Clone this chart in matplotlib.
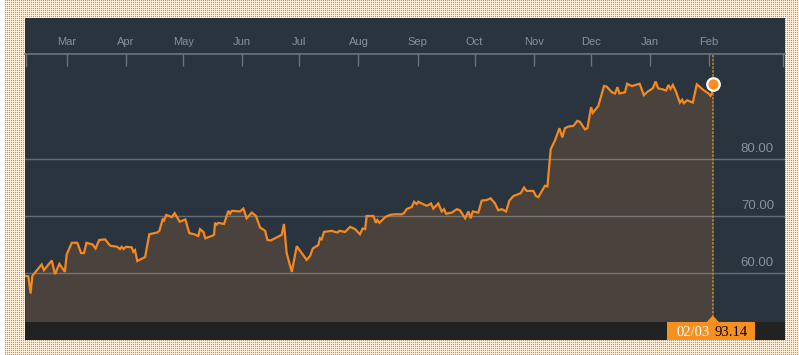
import numpy as np
import matplotlib
matplotlib.use("Agg")
import matplotlib.pyplot as plt
import matplotlib.dates as mdates
from matplotlib.patches import Rectangle, Polygon
from datetime import datetime

# ---------------- data ----------------
base_date = datetime(2014, 3, 1)
day_offsets = [
    -22.0, -20.3, -19.1, -18.2, -13.3, -12.1, -8.0, -6.3, -4.0, -1.1, -0.2, 2.5, 5.4, 7.4, 8.9, 10.2,
    13.4, 15.0, 16.9, 20.0, 22.6, 26.3, 27.8, 28.7, 29.7, 31.0, 34.0, 34.8, 35.7, 36.9, 41.0, 43.2,
    44.5, 47.3, 48.5, 50.2, 50.9, 52.1, 55.0, 56.5, 59.2, 62.1, 64.2, 66.7, 68.9, 69.8, 71.6, 72.6,
    76.0, 77.2, 77.7, 78.6, 79.4, 82.4, 84.7, 85.6, 86.5, 90.8, 92.6, 94.3, 97.0, 99.2, 101.3, 104.0,
    105.2, 106.9, 112.7, 113.9, 115.3, 118.0, 120.6, 125.8, 127.6, 129.0, 131.9, 132.8, 133.7, 134.9,
    139.0, 140.7, 141.9, 143.0, 146.0, 148.6, 151.2, 153.8, 155.2, 156.5, 157.3, 160.8, 162.2, 162.9,
    164.0, 167.0, 169.6, 172.2, 175.7, 176.9, 178.3, 181.0, 182.2, 183.6, 184.4, 186.2, 188.8, 190.2,
    191.1, 192.3, 194.9, 196.7, 197.9, 199.0, 202.0, 204.6, 206.3, 209.0, 210.7, 211.9, 213.0, 215.9,
    217.7, 220.3, 222.4, 224.7, 226.4, 228.2, 230.5, 232.2, 234.3, 238.2, 239.9, 241.3, 244.8, 246.2,
    247.4, 250.9, 252.2, 253.9, 256.2, 258.5, 260.0, 261.4, 263.2, 265.8, 267.9, 269.3, 271.9, 273.2,
    275.1, 276.0, 278.9, 281.9, 283.3, 286.0, 287.7, 288.9, 290.0, 292.9, 294.0, 296.5, 300.6, 302.8,
    304.7, 307.5, 309.0, 310.3, 312.9, 314.5, 315.7, 316.8, 318.0, 319.7, 321.7, 322.9, 323.8, 325.5,
    328.5, 330.6, 334.1, 336.7, 337.8, 338.6, 339.0,
]
prices = [
    59.5, 59.4, 56.4, 59.5, 61.5, 60.5, 62.2, 59.8, 61.6, 60.2, 63.2, 65.3, 65.3, 63.5, 63.5, 65.3,
    65.0, 64.3, 65.8, 65.9, 64.8, 64.6, 64.2, 64.6, 64.2, 64.6, 64.5, 63.7, 64.0, 62.1, 62.8, 66.8,
    66.9, 67.1, 67.4, 69.4, 69.2, 70.2, 69.8, 70.5, 69.0, 69.4, 67.0, 66.8, 66.5, 67.7, 67.2, 66.1,
    66.5, 66.7, 68.8, 68.5, 68.8, 68.6, 70.9, 70.4, 70.9, 70.8, 71.3, 69.6, 70.6, 70.0, 68.0, 67.4,
    65.8, 65.7, 66.7, 68.6, 63.5, 60.2, 64.7, 62.3, 63.0, 64.3, 64.9, 66.1, 65.9, 67.2,
    67.4, 67.2, 67.1, 67.4, 67.2, 68.1, 67.7, 66.8, 67.8, 67.7, 70.0, 70.0, 68.8, 69.3,
    68.8, 69.8, 70.2, 70.3, 70.3, 70.5, 71.2, 71.6, 72.5, 72.1, 72.5, 72.2, 71.8, 72.0,
    72.2, 71.3, 72.2, 70.8, 71.2, 70.4, 70.6, 71.2, 71.0, 69.6, 70.8, 69.6, 70.8, 70.6,
    72.7, 72.8, 73.1, 72.2, 71.0, 71.2, 70.8, 72.7, 73.5, 74.0, 75.0, 74.4, 74.4, 73.5,
    73.3, 75.3, 75.2, 81.7, 83.3, 85.4, 83.8, 85.4, 85.7, 85.8, 86.7, 86.5, 85.2, 85.4,
    89.1, 88.1, 89.3, 92.8, 92.7, 91.7, 91.5, 92.6, 91.5, 91.7, 93.2, 92.8, 93.2, 91.2,
    91.8, 92.4, 93.6, 92.4, 92.2, 92.0, 93.0, 92.3, 93.0, 91.8, 89.9, 90.4, 89.8, 90.3,
    89.9, 93.1, 92.1, 91.5, 91.1, 91.6, 93.14,
]
month_starts = [datetime(2014, m, 1) for m in range(3, 13)] + [datetime(2015, 1, 1), datetime(2015, 2, 1)]
grid_values = [60, 70, 80]
last_date_label = "02/03"
last_price_label = "93.14"

# ---------------- styles ----------------
W, H = 799, 355
PANEL = "#2a343f"
FILL = "#4a423c"
LINE = "#f5891f"
STRIP = "#222222"
TXT = "#8b9097"
AXC = "#6c737a"

fig = plt.figure(figsize=(W / 100, H / 100), dpi=100, facecolor="white")

# dotted background pattern (soft orange dots on white)
orange = np.array([240, 140, 40]) / 255.0
white = np.ones(3)
pattern = np.ones((H, W, 3))
pattern[0::2, 5::2] = orange
pattern[1::2, 5::2] = 0.78 * white + 0.22 * orange
pattern[0::2, 6::2] = 0.78 * white + 0.22 * orange
pattern[:, :5] = 1.0
fig.figimage(pattern, xo=0, yo=0, origin="upper", zorder=0, resample=False)

def fr(x0, y0, x1, y1):
    return [x0 / W, 1 - y1 / H, (x1 - x0) / W, (y1 - y0) / H]

bg = fig.add_axes(fr(25, 18, 785, 340), zorder=1)
bg.set_facecolor(PANEL)
bg.set_axis_off()
bg.add_patch(Rectangle((0, 0), 1, 1, transform=bg.transAxes, color=PANEL, zorder=0))

ax = fig.add_axes(fr(25, 54, 785, 322), zorder=2)
ax.patch.set_alpha(0)

base_num = mdates.date2num(base_date)
xs = base_num + np.array(day_offsets)
ys = np.array(prices)

y_bottom = 60 - (322 - 273) / 5.7
y_top = 80 + (159 - 54) / 5.7
ax.set_ylim(y_bottom, y_top)
ax.set_xlim(base_num - 22.05, base_num + 376.9)

ax.fill_between(xs, ys, y_bottom, color=FILL, lw=0, zorder=1)
for gv in grid_values:
    ax.axhline(gv, color="white", alpha=0.28, lw=1.0, zorder=2)
    ax.annotate(f"{gv:.2f}", xy=(0.9855, gv), xycoords=("axes fraction", "data"),
                xytext=(0, 4.8), textcoords="offset points", ha="right", va="baseline",
                color=TXT, fontsize=9.5, family="Liberation Sans", zorder=5)
ax.plot(xs, ys, color=LINE, lw=1.6, zorder=3, solid_joinstyle="miter")

for s in ["left", "right", "bottom"]:
    ax.spines[s].set_visible(False)
ax.spines["top"].set_color(AXC)
ax.spines["top"].set_linewidth(1.2)
ax.set_yticks([])
mnums = [mdates.date2num(d) for d in month_starts]
ax.set_xticks(mnums)
ax.set_xticklabels([])
ax.tick_params(axis="x", which="major", top=True, bottom=False, direction="in",
               length=8.6, width=1.0, color=AXC, labeltop=False, labelbottom=False)
for mn, d in zip(mnums, month_starts):
    ax.annotate(d.strftime("%b"), xy=(mn, 1), xycoords=("data", "axes fraction"),
                xytext=(0, 6.8), textcoords="offset points", ha="center", va="baseline",
                color=TXT, fontsize=8, family="Liberation Sans", annotation_clip=False)
for xe in (0.0015, 0.9975):
    ax.plot([xe, xe], [1, 1 - 12 / 268], transform=ax.transAxes, color=AXC, lw=1.0, clip_on=False)

# overlay in pixel coords
ov = fig.add_axes([0, 0, 1, 1], zorder=3)
ov.set_xlim(0, W)
ov.set_ylim(H, 0)
ov.set_axis_off()
ov.patch.set_alpha(0)

ov.add_patch(Rectangle((25, 322), 760, 18, color=STRIP, lw=0))

# last point position in pixels
lx_disp, ly_disp = ax.transData.transform((xs[-1], ys[-1]))
lx = lx_disp
ly = H - ly_disp

ov.plot([lx, lx], [55, 316], color="#c48a2c", lw=1.1, dashes=(1.6, 0.9))
ov.add_patch(Rectangle((lx - 46, 322), 88, 18, color="#f7901e", lw=0))
ov.add_patch(Polygon([(lx - 6.5, 322.5), (lx, 315.5), (lx + 6.5, 322.5)], closed=True,
                     color="#f7901e", lw=0))
ov.text(lx - 20, 336, last_date_label, color="white", ha="center", va="baseline",
        fontsize=10.5, family="Liberation Serif")
ov.text(lx + 18, 336, last_price_label, color="black", ha="center", va="baseline",
        fontsize=10.5, family="Liberation Serif")
ov.plot([lx], [ly], marker="o", ms=9.0, mfc="#f7901e", mec="white", mew=1.6)

fig.savefig("out.png", dpi=100, facecolor="white")
